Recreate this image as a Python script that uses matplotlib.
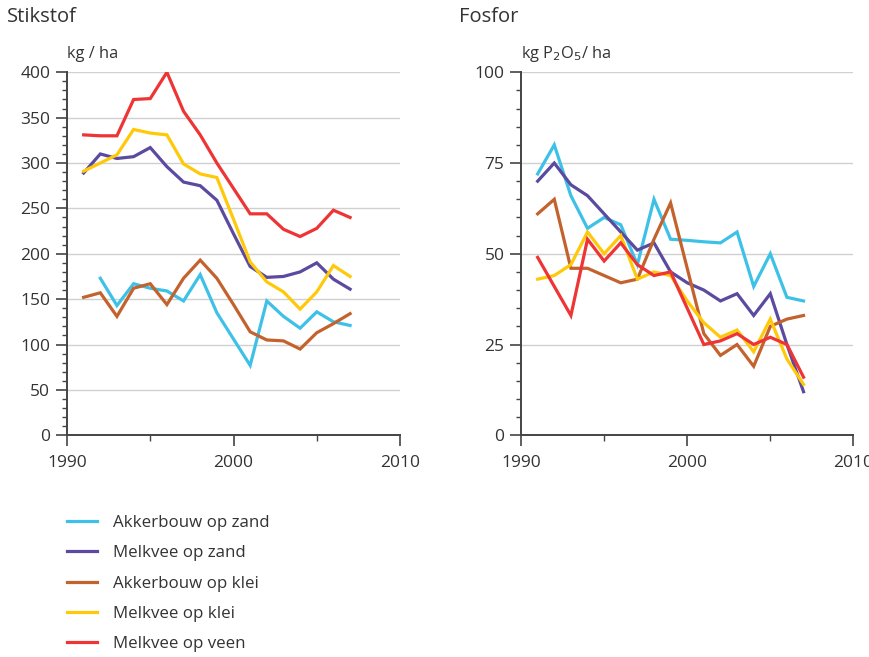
import numpy as np
import matplotlib
matplotlib.use("Agg")
import matplotlib.pyplot as plt
from matplotlib.ticker import MultipleLocator

plt.rcParams['font.family'] = ['Open Sans', 'DejaVu Sans']

# jaren
jaren = list(range(1991, 2008))

series = ["Akkerbouw op zand", "Melkvee op zand", "Akkerbouw op klei",
          "Melkvee op klei", "Melkvee op veen"]
kleuren = ["#3ec1e6", "#5b4a9f", "#c4622d", "#ffc90a", "#ee3434"]

# stikstof, kg/ha (akkerbouw op zand begint in 1992)
n_akker_zand = [np.nan, 173, 143, 167, 162, 159, 148, 177, 135, 106, 77, 148, 131, 118, 136, 125, 121]
n_melk_zand = [289, 310, 305, 307, 317, 296, 279, 275, 259, 222, 186, 174, 175, 180, 190, 172, 161]
n_akker_klei = [152, 157, 131, 162, 167, 144, 173, 193, 173, 144, 114, 105, 104, 95, 113, 123, 134]
n_melk_klei = [291, 300, 309, 337, 333, 331, 299, 288, 284, 238, 191, 169, 158, 139, 158, 187, 175]
n_melk_veen = [331, 330, 330, 370, 371, 400, 357, 331, 300, 272, 244, 244, 227, 219, 228, 248, 240]

# fosfor, kg P2O5/ha
p_akker_zand = [72, 80, 66, 57, 60, 58, 47, 65, 54, 53.7, 53.3, 53, 56, 41, 50, 38, 37]
p_melk_zand = [70, 75, 69, 66, 61, 56, 51, 53, 45, 42, 40, 37, 39, 33, 39, 25, 12]
p_akker_klei = [61, 65, 46, 46, 44, 42, 43, 54, 64, 46, 28, 22, 25, 19, 30, 32, 33]
p_melk_klei = [43, 44, 47, 56, 50, 55, 43, 45, 44, 37, 31, 27, 29, 23, 32, 21, 14]
p_melk_veen = [49, 41, 33, 54, 48, 53, 47, 44, 45, 35, 25, 26, 28, 25, 27, 25, 16]

stikstof = [n_akker_zand, n_melk_zand, n_akker_klei, n_melk_klei, n_melk_veen]
fosfor = [p_akker_zand, p_melk_zand, p_akker_klei, p_melk_klei, p_melk_veen]

tekstkleur = "#333333"
askleur = "#444444"

fig = plt.figure(figsize=(8.7, 6.57), dpi=100)
ax1 = fig.add_axes([0.077, 0.3375, 0.3828, 0.5525])
ax2 = fig.add_axes([0.5989, 0.3375, 0.382, 0.5525])


def opmaak(ax, ymax, ymajor, yminor):
    ax.set_xlim(1990, 2010)
    ax.set_ylim(0, ymax)
    ax.set_xticks([1990, 2000, 2010])
    ax.xaxis.set_minor_locator(MultipleLocator(5))
    ax.yaxis.set_major_locator(MultipleLocator(ymajor))
    ax.yaxis.set_minor_locator(MultipleLocator(yminor))
    ax.grid(axis='y', which='major', color='#d0d0d0', linewidth=1.0)
    ax.set_axisbelow(True)
    for kant in ['top', 'right']:
        ax.spines[kant].set_visible(False)
    for kant in ['left', 'bottom']:
        ax.spines[kant].set_color(askleur)
        ax.spines[kant].set_linewidth(1.4)
    ax.tick_params(which='major', length=8, width=1.2, color=askleur,
                   labelsize=12.5, labelcolor=tekstkleur, pad=4)
    ax.tick_params(which='minor', length=3.8, width=1.0, color=askleur)
    ax.tick_params(axis='x', which='major', length=8, pad=6)
    ax.tick_params(axis='x', which='minor', length=4.5)


for i in range(5):
    ax1.plot(jaren, stikstof[i], color=kleuren[i], linewidth=2.3,
             label=series[i], solid_joinstyle='miter')
    ax2.plot(jaren, fosfor[i], color=kleuren[i], linewidth=2.3,
             solid_joinstyle='miter')

opmaak(ax1, 400, 50, 10)
opmaak(ax2, 100, 25, 5)

fig.text(0.008, 0.99, "Stikstof", fontsize=14.5, color=tekstkleur, va='top')
fig.text(0.528, 0.99, "Fosfor", fontsize=14.5, color=tekstkleur, va='top')
fig.text(0.077, 0.918, "kg / ha", fontsize=11.8, color=tekstkleur, va='center')
fig.text(0.599, 0.918, "kg P$_2$O$_5$/ ha", fontsize=11.8, color=tekstkleur,
         va='center')

handles, labels = ax1.get_legend_handles_labels()
fig.legend(handles, labels, loc='upper left', bbox_to_anchor=(0.077, 0.216),
           frameon=False, fontsize=12.2, labelcolor=tekstkleur,
           handlelength=1.75, handletextpad=0.95, labelspacing=0.84,
           borderaxespad=0, borderpad=0)

fig.savefig("out.png", dpi=100)
